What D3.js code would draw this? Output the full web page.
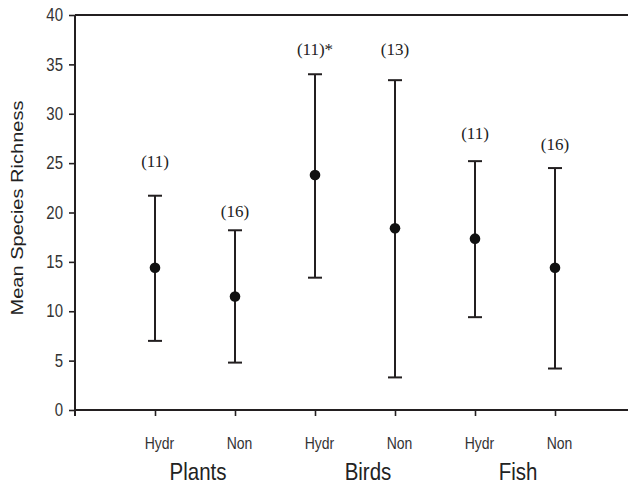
<!DOCTYPE html>
<html>
<head>
<meta charset="utf-8">
<script src="https://cdn.jsdelivr.net/npm/d3@7"></script>
<style>
	body { margin:0; background:#fff; }
	svg { display:block; }
	.tick text { font-family: Arial, "Liberation Sans", sans-serif; fill:#333; }
	.nlabel { font-family: "Times New Roman", "Liberation Serif", serif; fill:#222; }
</style>
</head>
<body>
<div id="chart"></div>
<script>
////////////////////////////////////////////////////
// data
var groups = ["Plants", "Birds", "Fish"];
var treatments = ["Hydr", "Non", "Hydr", "Non", "Hydr", "Non"];
var means = [14.4, 11.5, 23.8, 18.4, 17.35, 14.4];
var upper = [21.7, 18.2, 34.0, 33.4, 25.2, 24.5];
var lower = [7.0, 4.8, 13.4, 3.3, 9.4, 4.2];
var nLabels = ["(11)", "(16)", "(11)*", "(13)", "(11)", "(16)"];
var nLabelAt = [24.6, 19.5, 35.9, 35.9, 27.4, 26.3];
var yTicks = [0, 5, 10, 15, 20, 25, 30, 35, 40];

///////////
var totalW = 628;
var totalH = 485;
var leftMargin = 75;
var topY = 15;
var baseY = 410;
var ink = "#231f20";
var stretch = 1.18;	// the original lettering is a bit taller than wide

var chart = d3.select("#chart").append("svg")
	.attr("width", totalW)
	.attr("height", totalH);

var x = d3.scaleLinear().domain([0, 6.9125]).range([leftMargin, totalW]);
var y = d3.scaleLinear().domain([0, 40]).range([baseY, topY]);

/////////// AXES
var yAxis = chart.append("g")
	.attr("transform", "translate(" + leftMargin + ",0)")
	.call(d3.axisLeft(y).tickValues(yTicks).tickSize(6).tickPadding(6));
yAxis.select(".domain").remove();
yAxis.selectAll("line").attr("stroke", ink).attr("stroke-width", 1.6);
yAxis.selectAll("text")
	.attr("transform", "scale(1," + stretch + ")")
	.style("font-size", "15px");

// y axis line runs a little past the bottom axis
chart.append("line")
	.attr("x1", leftMargin).attr("x2", leftMargin)
	.attr("y1", y(40)).attr("y2", baseY + 6)
	.attr("stroke", ink).attr("stroke-width", 2);

// top frame line
chart.append("line")
	.attr("x1", leftMargin).attr("x2", totalW)
	.attr("y1", y(40)).attr("y2", y(40))
	.attr("stroke", ink).attr("stroke-width", 2);

var xAxis = chart.append("g")
	.attr("transform", "translate(0," + baseY + ")")
	.call(d3.axisBottom(x)
		.tickValues(treatments.map(function(d, i) { return i + 1; }))
		.tickFormat(function(d) { return treatments[d - 1]; })
		.tickSize(6).tickPadding(17));
xAxis.select(".domain")
	.attr("d", "M" + leftMargin + ",0H" + totalW)
	.attr("stroke", ink).attr("stroke-width", 2);
xAxis.selectAll("line").attr("stroke", ink).attr("stroke-width", 1.6);
xAxis.selectAll("text")
	.attr("dx", 4)
	.attr("transform", "scale(1," + stretch + ")")
	.style("font-size", "14px");

// group names under each pair
var groupShift = [3, 13, 3];
chart.selectAll("text.group")
	.data(groups)
	.enter().append("text")
		.attr("class", "group")
		.attr("transform", function(d, i) {
			var gx = (x(2 * i + 1) + x(2 * i + 2)) / 2 + groupShift[i];
			return "translate(" + gx + ",480) scale(1," + stretch + ")";
		})
		.attr("text-anchor", "middle")
		.style("font-family", "Arial, 'Liberation Sans', sans-serif")
		.style("font-size", "20.5px")
		.style("fill", "#222")
		.text(function(d) { return d; });

// y title
chart.append("text")
	.attr("transform", "translate(23,208) rotate(-90) scale(" + stretch + ",1)")
	.attr("text-anchor", "middle")
	.style("font-family", "Arial, 'Liberation Sans', sans-serif")
	.style("font-size", "17px")
	.style("fill", "#222")
	.text("Mean Species Richness");

/////////// ERROR BARS
var capW = 7;
var bars = chart.selectAll("g.bar")
	.data(means)
	.enter().append("g")
		.attr("class", "bar");

bars.append("line")
	.attr("x1", function(d, i) { return x(i + 1); })
	.attr("x2", function(d, i) { return x(i + 1); })
	.attr("y1", function(d, i) { return y(upper[i]); })
	.attr("y2", function(d, i) { return y(lower[i]); })
	.attr("stroke", ink).attr("stroke-width", 2);
bars.append("line")
	.attr("x1", function(d, i) { return x(i + 1) - capW; })
	.attr("x2", function(d, i) { return x(i + 1) + capW; })
	.attr("y1", function(d, i) { return y(upper[i]); })
	.attr("y2", function(d, i) { return y(upper[i]); })
	.attr("stroke", ink).attr("stroke-width", 2);
bars.append("line")
	.attr("x1", function(d, i) { return x(i + 1) - capW; })
	.attr("x2", function(d, i) { return x(i + 1) + capW; })
	.attr("y1", function(d, i) { return y(lower[i]); })
	.attr("y2", function(d, i) { return y(lower[i]); })
	.attr("stroke", ink).attr("stroke-width", 2);
bars.append("circle")
	.attr("cx", function(d, i) { return x(i + 1); })
	.attr("cy", function(d) { return y(d); })
	.attr("r", 5.3)
	.attr("fill", "#111");

/////////// SAMPLE SIZES
chart.selectAll("text.nlabel")
	.data(nLabels)
	.enter().append("text")
		.attr("class", "nlabel")
		.attr("x", function(d, i) { return x(i + 1); })
		.attr("y", function(d, i) { return y(nLabelAt[i]); })
		.attr("text-anchor", "middle")
		.style("font-size", "17px")
		.text(function(d) { return d; });
////////////////////////////////////////////////////
</script>
</body>
</html>
